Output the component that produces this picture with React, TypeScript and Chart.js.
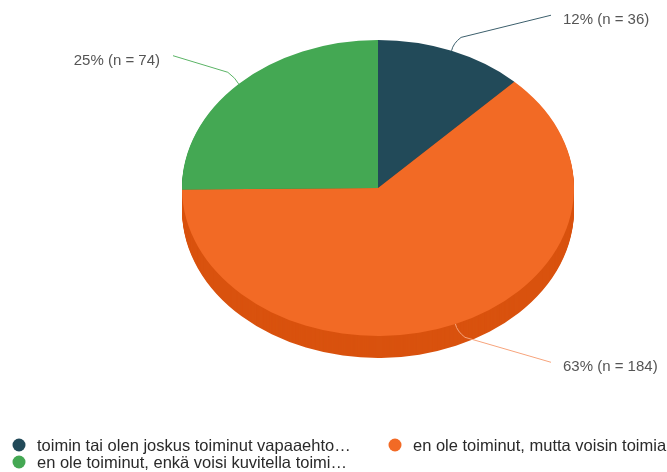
import React, { useEffect, useRef } from 'react';
import { Chart, registerables } from 'chart.js';
Chart.register(...registerables);

const categories = [
  'toimin tai olen joskus toiminut vapaaehto…',
  'en ole toiminut, mutta voisin toimia',
  'en ole toiminut, enkä voisi kuvitella toimi…',
];
const counts = [36, 184, 74];
const colors = ['#224a59', '#f26a25', '#44a853'];
const sideColors = ['#17343f', '#d9520e', '#2f8a3e'];
const lineColors = ['#3c5f6c', '#f7a47c', '#5bb466'];

const W = 667;
const H = 472;
const CENTER_Y = 188;
const TILT = 148 / 196;
const DEPTH = 22;
const LABEL_FONT = '15px "Liberation Sans", Arial, sans-serif';
const LEGEND_FONT = '16.5px "Liberation Sans", Arial, sans-serif';

const pie3d = {
  id: 'pie3d',
  beforeDatasetsDraw(chart: any) {
    const ctx = chart.ctx;
    const meta = chart.getDatasetMeta(0);
    const a0 = meta.data[0];
    const x = a0.x, y = a0.y, r = a0.outerRadius;
    for (let d = DEPTH; d >= 1; d--) {
      meta.data.forEach((arc: any, i: number) => {
        ctx.save();
        ctx.translate(x, CENTER_Y + d);
        ctx.scale(1, TILT);
        ctx.beginPath();
        ctx.moveTo(0, 0);
        ctx.arc(0, 0, r, arc.startAngle, arc.endAngle);
        ctx.closePath();
        ctx.fillStyle = sideColors[i];
        ctx.fill();
        ctx.restore();
      });
    }
    ctx.save();
    ctx.translate(x, CENTER_Y);
    ctx.scale(1, TILT);
    ctx.translate(-x, -y);
  },
  afterDatasetsDraw(chart: any) {
    const ctx = chart.ctx;
    ctx.restore();
    const meta = chart.getDatasetMeta(0);
    const total = counts.reduce((s, v) => s + v, 0);
    meta.data.forEach((arc: any, i: number) => {
      const x = arc.x, r = arc.outerRadius;
      const mid = (arc.startAngle + arc.endAngle) / 2;
      const c = Math.cos(mid), s = Math.sin(mid);
      const px = x + r * c;
      const py = CENTER_Y + r * TILT * s;
      const right = c >= 0;
      const ty = py + s * 33 + (s > 0 ? 13 : 0);
      const textX = right ? 563 : 160;
      const endX = right ? textX - 12 : textX + 13;
      const bx = px + c * 4;
      const by = py + s * 8;
      ctx.save();
      ctx.strokeStyle = lineColors[i];
      ctx.lineWidth = 1;
      ctx.beginPath();
      ctx.moveTo(px, py);
      ctx.quadraticCurveTo(bx, by, bx + (right ? 8 : -8), by + (s > 0 ? 6 : -6));
      ctx.lineTo(endX, ty - 5);
      ctx.stroke();
      const pct = Math.round((counts[i] / total) * 100);
      ctx.font = LABEL_FONT;
      ctx.fillStyle = '#555555';
      ctx.textBaseline = 'middle';
      ctx.textAlign = right ? 'left' : 'right';
      ctx.fillText(`${pct}% (n = ${counts[i]})`, textX, ty);
      ctx.restore();
    });
  },
  afterDraw(chart: any) {
    const ctx = chart.ctx;
    const slots = [
      [19, 445],
      [395, 445],
      [19, 462],
    ];
    categories.forEach((lab, i) => {
      const [mx, my] = slots[i];
      ctx.save();
      ctx.fillStyle = colors[i];
      ctx.beginPath();
      ctx.arc(mx, my, 6.5, 0, Math.PI * 2);
      ctx.fill();
      ctx.font = LEGEND_FONT;
      ctx.fillStyle = '#2a2a2a';
      ctx.textBaseline = 'middle';
      ctx.textAlign = 'left';
      ctx.fillText(lab, mx + 18, my + 1);
      ctx.restore();
    });
  },
};

export default function App() {
  const ref = useRef<HTMLCanvasElement>(null);
  useEffect(() => {
    const chart = new Chart(ref.current!, {
      type: 'pie',
      data: {
        labels: categories,
        datasets: [
          {
            data: counts,
            backgroundColor: colors,
            borderWidth: 0,
          },
        ],
      },
      options: {
        animation: false,
        responsive: false,
        devicePixelRatio: 1,
        events: [],
        layout: { padding: { left: 182, right: 93, top: 40, bottom: 40 } },
        plugins: {
          legend: { display: false },
          tooltip: { enabled: false },
        },
      },
      plugins: [pie3d],
    });
    return () => chart.destroy();
  }, []);
  return (
    <div style={{ position: 'absolute', left: 0, top: 0, width: W, height: H, background: '#fff' }}>
      <canvas ref={ref} width={W} height={H} style={{ display: 'block' }} />
    </div>
  );
}
